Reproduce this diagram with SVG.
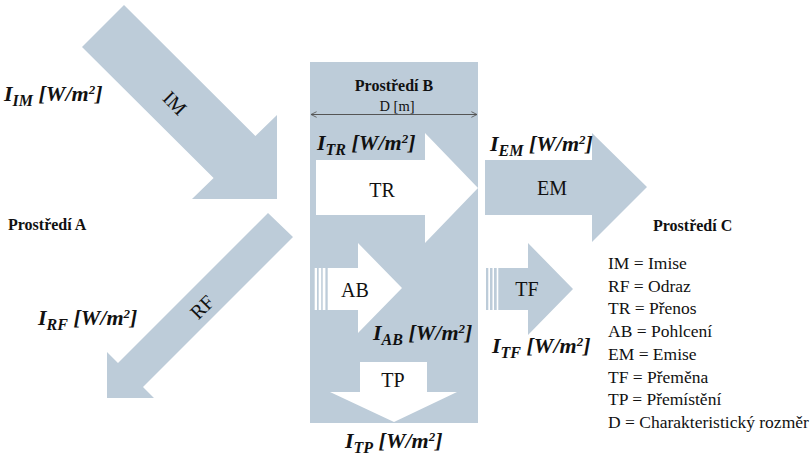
<svg xmlns="http://www.w3.org/2000/svg" width="810" height="459" viewBox="0 0 810 459" font-family="'Liberation Serif', 'DejaVu Serif', serif">
<defs>
<style>
.a{fill:#BDCCD9}
.w{fill:#FFFFFF}
text{font-family:'Liberation Serif','DejaVu Serif',serif;fill:#111}
.bold{font-weight:bold}
.lab{font-weight:bold;font-style:italic;font-size:22px}
.sub{font-size:16px}
.sup{font-size:13px}
.big{font-size:20px}
.leg{font-size:17.5px}
</style>
<marker id="oa" viewBox="0 0 10 10" refX="9" refY="5" markerWidth="7" markerHeight="7" orient="auto-start-reverse" markerUnits="userSpaceOnUse">
<path d="M1,1 L9,5 L1,9" fill="none" stroke="#555" stroke-width="1.2"/>
</marker>
</defs>
<rect width="810" height="459" fill="#FFFFFF"/>

<g id="boxB">
<rect x="310" y="62" width="168" height="361" class="a"/>
<text class="bold" x="394" y="91" font-size="16" text-anchor="middle">Prostředí B</text>
<text x="397" y="111" font-size="14.5" text-anchor="middle">D [m]</text>
</g>

<g id="connectors">
<line x1="311" y1="114.5" x2="477" y2="114.5" stroke="#555" stroke-width="1.2" marker-start="url(#oa)" marker-end="url(#oa)"/>
</g>

<g id="IM">
<polygon class="a" points="124,5 255.4,136.1 277,115 277,199 192,199 213.6,177.9 82,47"/>
<text class="big" x="175" y="103" text-anchor="middle" dominant-baseline="central" transform="rotate(45 175 103)">IM</text>
</g>

<g id="RF">
<polygon class="a" points="268,213 293,237 143,387 154,398 107,398 107,352 118,363"/>
<text class="big" x="202" y="307" text-anchor="middle" dominant-baseline="central" transform="rotate(-45 202 307)">RF</text>
</g>

<g id="TR">
<polygon class="w" points="316,160 425,160 425,133 478,188 425,243 425,215 316,215"/>
<text class="big" x="382" y="197" text-anchor="middle">TR</text>
</g>

<g id="AB">
<rect class="w" x="314.7" y="268" width="2.3" height="42"/>
<rect class="w" x="318.7" y="268" width="2.5" height="42"/>
<rect class="w" x="322.7" y="268" width="2.7" height="42"/>
<polygon class="w" points="327.7,268 358,268 358,243 402,288 358,333 358,310 327.7,310"/>
<text class="big" x="355" y="297" text-anchor="middle">AB</text>
</g>

<g id="TP">
<polygon class="w" points="360,362 427,362 427,392 457,392 394,422 330,392 360,392"/>
<text class="big" x="393" y="387" text-anchor="middle">TP</text>
</g>

<g id="EM">
<polygon class="a" points="485,160 592,160 592,133 647,187 592,242 592,215 485,215"/>
<text class="big" x="552" y="195" text-anchor="middle">EM</text>
</g>

<g id="TF">
<rect class="a" x="486" y="268" width="2.3" height="42"/>
<rect class="a" x="490" y="268" width="2.5" height="42"/>
<rect class="a" x="494" y="268" width="2.7" height="42"/>
<polygon class="a" points="498.3,268 528,268 528,243 573,289 528,335 528,310 498.3,310"/>
<text class="big" x="527" y="296" text-anchor="middle">TF</text>
</g>

<g id="labels">
<text class="lab" x="4" y="101">I<tspan class="sub" dy="5">IM</tspan><tspan dy="-5"> [W/m</tspan><tspan class="sup" dy="-7">2</tspan><tspan dy="7">]</tspan></text>
<text class="lab" x="38" y="325">I<tspan class="sub" dy="5">RF</tspan><tspan dy="-5"> [W/m</tspan><tspan class="sup" dy="-7">2</tspan><tspan dy="7">]</tspan></text>
<text class="lab" x="317" y="150">I<tspan class="sub" dy="5">TR</tspan><tspan dy="-5"> [W/m</tspan><tspan class="sup" dy="-7">2</tspan><tspan dy="7">]</tspan></text>
<text class="lab" x="373" y="340">I<tspan class="sub" dy="5">AB</tspan><tspan dy="-5"> [W/m</tspan><tspan class="sup" dy="-7">2</tspan><tspan dy="7">]</tspan></text>
<text class="lab" x="345" y="448">I<tspan class="sub" dy="5">TP</tspan><tspan dy="-5"> [W/m</tspan><tspan class="sup" dy="-7">2</tspan><tspan dy="7">]</tspan></text>
<text class="lab" x="490" y="151">I<tspan class="sub" dy="5">EM</tspan><tspan dy="-5"> [W/m</tspan><tspan class="sup" dy="-7">2</tspan><tspan dy="7">]</tspan></text>
<text class="lab" x="492" y="353">I<tspan class="sub" dy="5">TF</tspan><tspan dy="-5"> [W/m</tspan><tspan class="sup" dy="-7">2</tspan><tspan dy="7">]</tspan></text>
</g>

<g id="envA">
<text class="bold" x="8" y="230" font-size="16">Prostředí A</text>
</g>

<g id="envC">
<text class="bold" x="653" y="231" font-size="16">Prostředí C</text>
</g>

<g id="legend" class="leg">
<text x="608" y="269">IM = Imise</text>
<text x="608" y="291.7">RF = Odraz</text>
<text x="608" y="314.4">TR = Přenos</text>
<text x="608" y="337.1">AB = Pohlcení</text>
<text x="608" y="359.8">EM = Emise</text>
<text x="608" y="382.5">TF = Přeměna</text>
<text x="608" y="405.2">TP = Přemístění</text>
<text x="608" y="428">D = Charakteristický rozměr</text>
</g>
</svg>
